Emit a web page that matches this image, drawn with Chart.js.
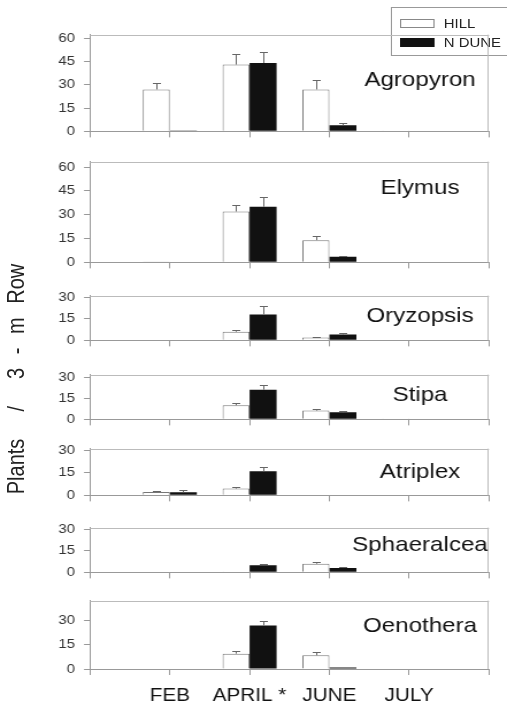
<!DOCTYPE html>
<html>
<head>
<meta charset="utf-8">
<script src="https://cdn.jsdelivr.net/npm/chart.js@4.4.1/dist/chart.umd.min.js"></script>
<style>
  html, body { margin: 0; padding: 0; background: #fff; overflow: hidden; width: 507px; height: 708px; }
  /* the whole figure is drawn 441px wide and stretched horizontally to 507px */
  #page { position: absolute; left: 0; top: 0; width: 441px; height: 708px;
          transform: scaleX(1.14966); transform-origin: 0 0; }
  #page canvas { position: absolute; left: 0; }
  #ytitle { position: absolute; left: 14px; top: 379px; white-space: pre;
            font-family: "Liberation Sans", Arial, sans-serif; font-size: 20px; color: #222;
            word-spacing: 8px; transform: translate(-50%, -50%) rotate(-90deg); }
  #legend { position: absolute; left: 340px; top: 7px; width: 110px; height: 47px;
            border: 1px solid #999; background: #fff;
            font-family: "Liberation Sans", Arial, sans-serif; font-size: 13px; color: #222; }
  #legend .row { position: absolute; left: 7px; height: 14px; display: flex; align-items: center; }
  #legend .sw { width: 30px; height: 9px; box-sizing: border-box; margin-right: 8px; }
</style>
</head>
<body>
<div id="page">
  <div id="ytitle">Plants  /  3 - m Row</div>
  <div id="legend"></div>
</div>
<script>
// Month tick labels (x positions 1..4 on the axis)
const xTickLabels = ['FEB', 'APRIL *', 'JUNE', 'JULY'];
const seriesNames = ['HILL', 'N DUNE'];
const species = ['Agropyron', 'Elymus', 'Oryzopsis', 'Stipa', 'Atriplex', 'Sphaeralcea', 'Oenothera'];

// Mean plants per 3-m row, FEB / APRIL / JUNE / JULY
const hillMeans = [
  [27, 43, 27, 0.3],    // Agropyron
  [0.5, 32, 14, 0],     // Elymus
  [0, 6, 2, 0],         // Oryzopsis
  [0.5, 10, 6.2, 0.2],  // Stipa
  [2.2, 4.5, 0.4, 0],   // Atriplex
  [0, 0.3, 6, 0],       // Sphaeralcea
  [0.3, 9.5, 8.5, 0]    // Oenothera
];
const hillErrors = [
  [4, 7, 6, 0],
  [0, 4, 2.5, 0],
  [0, 1.3, 0.6, 0],
  [0, 1.5, 1.2, 0],
  [0.4, 0.8, 0, 0],
  [0, 0, 1, 0],
  [0, 1.5, 2.2, 0]
];
const duneMeans = [
  [0.6, 44, 4, 0],
  [0, 35, 3.5, 0],
  [0, 18, 4, 0],
  [0, 21, 5, 0],
  [2, 16, 0, 0],
  [0, 5, 3, 0],
  [0, 27, 1, 0]
];
const duneErrors = [
  [0, 7, 1.5, 0],
  [0, 6, 0.5, 0],
  [0, 6, 1, 0],
  [0, 3.5, 0.8, 0],
  [1.4, 3, 0, 0],
  [0, 1, 0.4, 0],
  [0, 2.5, 0, 0]
];
// y-axis ranges and tick values
const yMaxes = [62.3, 63.4, 31.1, 31.7, 31.1, 31.1, 42.4];
const yTickSets = [
  [0, 15, 30, 45, 60], [0, 15, 30, 45, 60],
  [0, 15, 30], [0, 15, 30], [0, 15, 30], [0, 15, 30], [0, 15, 30]
];

// Page layout (reference-width pixels; horizontal values are scaled by S)
const S = 507 / 441;
const X = v => v / S;
const panelTop    = [31, 158, 292, 371, 445, 524, 597];
const panelBottom = [138.5, 270, 348, 427, 503, 580, 669];
const titleDrop   = [51, 32, 26, 26, 29, 23, 31];
const PAD_TOP = 12;
const FONT = '"Liberation Sans", Arial, sans-serif';

// Legend
const legend = document.getElementById('legend');
const swatchStyles = ['background:#fff;border:1px solid #888', 'background:#111'];
seriesNames.forEach((name, i) => {
  const row = document.createElement('div');
  row.className = 'row';
  row.style.top = (i === 0 ? 8 : 27) + 'px';
  row.innerHTML = '<span class="sw" style="' + swatchStyles[i] + '"></span><span>' + name + '</span>';
  legend.appendChild(row);
});

// Upper-only error bars with caps
const errorBars = {
  id: 'errorBars',
  afterDatasetsDraw(chart) {
    const { ctx } = chart;
    const y = chart.scales.y;
    chart.data.datasets.forEach((ds, di) => {
      const meta = chart.getDatasetMeta(di);
      meta.data.forEach((bar, i) => {
        const e = ds.errors[i];
        if (!e) return;
        const top = y.getPixelForValue(ds.data[i].y + e);
        const cx = Math.round(bar.x) + 0.5;
        const ty = Math.round(top) + 0.5;
        ctx.save();
        ctx.strokeStyle = '#666';
        ctx.lineWidth = 1;
        ctx.beginPath();
        ctx.moveTo(cx, bar.y);
        ctx.lineTo(cx, ty);
        ctx.moveTo(cx - 3.5, ty);
        ctx.lineTo(cx + 3.5, ty);
        ctx.stroke();
        ctx.restore();
      });
    });
  }
};

// Light frame along the top and right of each panel
const frame = {
  id: 'frame',
  beforeDatasetsDraw(chart) {
    const { ctx, chartArea: a } = chart;
    ctx.save();
    ctx.strokeStyle = '#bbb';
    ctx.lineWidth = 1;
    ctx.beginPath();
    ctx.moveTo(a.left, Math.round(a.top) + 0.5);
    ctx.lineTo(a.right, Math.round(a.top) + 0.5);
    ctx.moveTo(Math.round(a.right) - 0.5, a.top);
    ctx.lineTo(Math.round(a.right) - 0.5, a.bottom);
    ctx.stroke();
    ctx.restore();
  }
};

// Species name inside each panel
const speciesTitle = {
  id: 'speciesTitle',
  afterDraw(chart, args, opts) {
    const { ctx, chartArea: a } = chart;
    ctx.save();
    ctx.font = '21px ' + FONT;
    ctx.fillStyle = '#111';
    ctx.textAlign = 'center';
    ctx.textBaseline = 'alphabetic';
    ctx.fillText(opts.text, X(420), a.top + opts.drop);
    ctx.restore();
  }
};

const page = document.getElementById('page');
const W = 441;

species.forEach((name, p) => {
  const isLast = p === species.length - 1;
  const xh = isLast ? 708 - panelBottom[p] : 8;
  const h = PAD_TOP + (panelBottom[p] - panelTop[p]) + xh;
  const canvas = document.createElement('canvas');
  canvas.width = W;
  canvas.height = Math.round(h);
  canvas.style.top = (panelTop[p] - PAD_TOP) + 'px';
  page.appendChild(canvas);

  const toPoints = arr => arr.map((v, i) => ({ x: i + 1, y: v }));

  new Chart(canvas, {
    type: 'bar',
    data: {
      datasets: [
        {
          label: seriesNames[0],
          data: toPoints(hillMeans[p]),
          errors: hillErrors[p],
          backgroundColor: '#fff',
          borderColor: '#777',
          borderWidth: 1,
          borderSkipped: 'bottom'
        },
        {
          label: seriesNames[1],
          data: toPoints(duneMeans[p]),
          errors: duneErrors[p],
          backgroundColor: '#111',
          borderColor: '#111',
          borderWidth: 0
        }
      ]
    },
    plugins: [frame, errorBars, speciesTitle],
    options: {
      responsive: false,
      animation: false,
      devicePixelRatio: 1,
      layout: { padding: { top: PAD_TOP, right: X(18), left: 0, bottom: 0 } },
      datasets: { bar: { barPercentage: 1, categoryPercentage: 0.677 } },
      plugins: {
        legend: { display: false },
        tooltip: { enabled: false },
        speciesTitle: { text: name, drop: titleDrop[p] }
      },
      scales: {
        x: {
          type: 'linear',
          min: 0,
          max: 5,
          offset: false,
          afterBuildTicks: s => { s.ticks = [0, 1, 2, 3, 4, 5].map(v => ({ value: v })); },
          afterFit: s => { s.height = xh; },
          grid: { display: true, offset: false, drawOnChartArea: false, drawTicks: true, tickLength: 6, color: '#999' },
          border: { display: true, color: '#999' },
          ticks: {
            display: isLast,
            autoSkip: false,
            maxRotation: 0,
            padding: 10,
            color: '#111',
            font: { family: FONT, size: 18 },
            callback: v => xTickLabels[v - 1] || ''
          }
        },
        y: {
          min: 0,
          max: yMaxes[p],
          afterBuildTicks: s => { s.ticks = yTickSets[p].map(v => ({ value: v })); },
          afterFit: s => { s.width = X(90); },
          grid: { display: true, drawOnChartArea: false, drawTicks: true, tickLength: X(6), color: '#999' },
          border: { display: true, color: '#999' },
          ticks: {
            padding: X(9),
            color: '#333',
            font: { family: FONT, size: 13 }
          }
        }
      }
    }
  });
});
</script>
</body>
</html>
